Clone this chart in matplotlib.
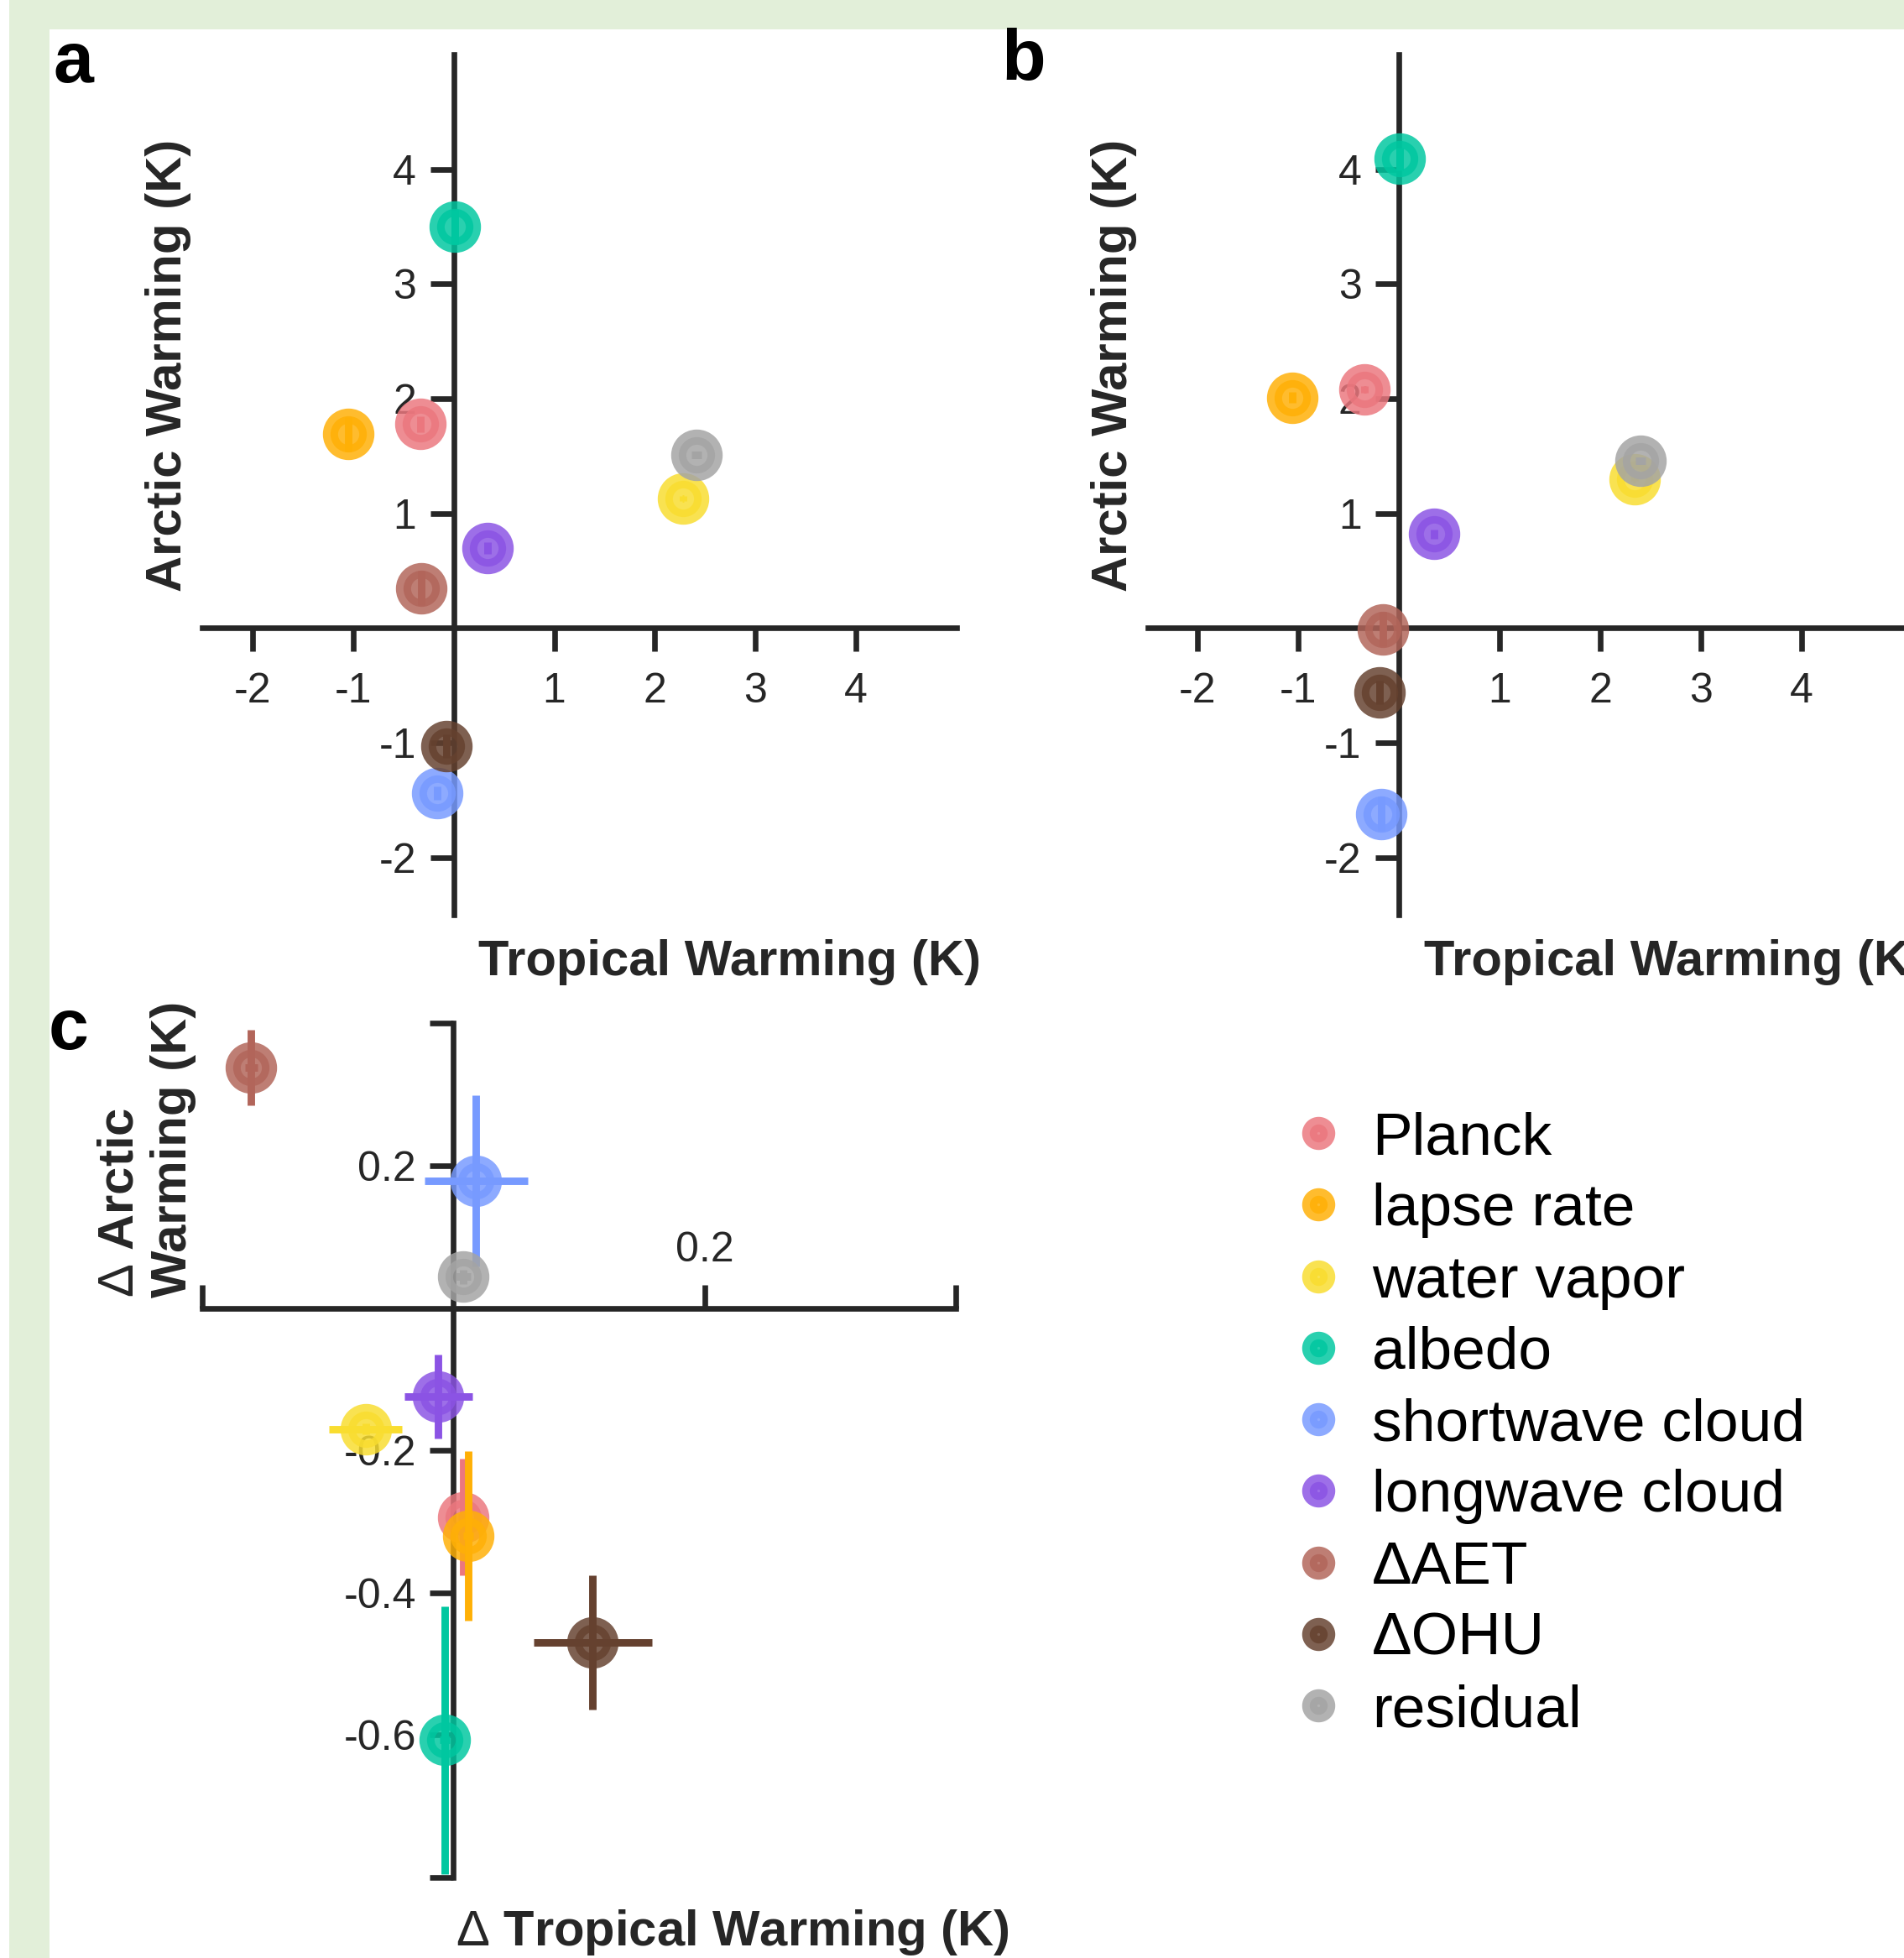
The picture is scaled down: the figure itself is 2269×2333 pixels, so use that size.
import matplotlib
matplotlib.use('Agg')
import matplotlib.pyplot as plt
from matplotlib.lines import Line2D
from matplotlib.patches import Rectangle

plt.rcParams['font.family'] = ['Liberation Sans', 'DejaVu Sans']
plt.rcParams['axes.unicode_minus'] = False
plt.rcParams['mathtext.fontset'] = 'custom'
plt.rcParams['mathtext.rm'] = 'Liberation Sans'

# feedback terms
names = ['Planck', 'lapse rate', 'water vapor', 'albedo', 'shortwave cloud',
         'longwave cloud', '\u0394AET', '\u0394OHU', 'residual']
colors = ['#eb777e', '#ffb006', '#f9dd2f', '#00c7a0', '#779aff',
          '#8b53e4', '#b2655a', '#65412f', '#a4a4a4']

# panel a
a_trop = [-0.33, -1.05, 2.28, 0.01, -0.16, 0.34, -0.32, -0.07, 2.41]
a_arct = [1.78, 1.69, 1.13, 3.50, -1.44, 0.70, 0.35, -1.03, 1.51]
a_trop_err = [0.01, 0.01, 0.01, 0.01, 0.01, 0.01, 0.01, 0.02, 0.05]
a_arct_err = [0.07, 0.15, 0.02, 0.15, 0.06, 0.05, 0.15, 0.10, 0.02]

# panel b
b_trop = [-0.34, -1.06, 2.34, 0.01, -0.18, 0.35, -0.16, -0.19, 2.40]
b_arct = [2.08, 2.01, 1.30, 4.09, -1.62, 0.82, -0.01, -0.56, 1.46]
b_trop_err = [0.01, 0.01, 0.01, 0.01, 0.01, 0.01, 0.01, 0.02, 0.05]
b_arct_err = [0.03, 0.05, 0.02, 0.10, 0.15, 0.04, 0.15, 0.10, 0.02]

# panel c (differences)
c_trop = [0.008, 0.012, -0.070, -0.007, 0.018, -0.012, -0.161, 0.111, 0.008]
c_arct = [-0.294, -0.320, -0.170, -0.607, 0.179, -0.124, 0.338, -0.470, 0.044]
c_trop_err = [0.004, 0.004, 0.029, 0.004, 0.041, 0.027, 0.005, 0.047, 0.006]
c_arct_err = [0.082, 0.119, 0.008, 0.188, 0.120, 0.059, 0.053, 0.094, 0.010]

ab_ticks = [-2, -1, 1, 2, 3, 4]
c_yticks = [0.4, 0.2, -0.2, -0.4, -0.6, -0.8]
c_yticklabels = ['', '0.2', '-0.2', '-0.4', '-0.6', '']
c_xticks = [-0.2, 0.2, 0.4]
c_xticklabels = ['', '0.2', '']

INK = '#262626'
W, H, DPI = 2269, 2333, 200
MS, MEW, ALPHA, ELW = 15.6, 6.5, 0.84, 3.2

fig = plt.figure(figsize=(W / DPI, H / DPI), dpi=DPI, facecolor='#e2efd9')
fig.patches.append(Rectangle((59 / W, 0), 1, 1 - 35 / H, transform=fig.transFigure,
                             facecolor='white', edgecolor='none', zorder=-1))
fig.patches.append(Rectangle((0, 0), 11 / W, 1, transform=fig.transFigure,
                             facecolor='white', edgecolor='none', zorder=-1))


def box(l, t, r, b):
    return [l / W, 1 - b / H, (r - l) / W, (b - t) / H]


def ftext(x, y, s, **kw):
    fig.text(x / W, 1 - y / H, s, **kw)


def draw_points(ax, xs, ys, xe, ye):
    for i in range(len(names)):
        ax.errorbar(xs[i], ys[i], xerr=xe[i], yerr=ye[i], fmt='none',
                    ecolor=colors[i], elinewidth=ELW, capsize=0, zorder=3 + 2 * i)
        ax.plot(xs[i], ys[i], 'o', ms=MS, mew=MEW, color=colors[i],
                alpha=ALPHA, zorder=4 + 2 * i, clip_on=False)


def style_axes(ax):
    ax.patch.set_alpha(0)
    for s in ax.spines.values():
        s.set_linewidth(2.4)
        s.set_color(INK)
    ax.tick_params(length=10, width=2.4, color=INK, labelsize=18,
                   labelcolor=INK, pad=6)


ax_a = fig.add_axes(box(241, 65, 1140, 1090))
ax_b = fig.add_axes(box(1367.5, 65, 2266.5, 1090))
ax_c = fig.add_axes(box(241, 1219.4, 1139, 2236.8))

for ax, xs, ys, xe, ye in [(ax_a, a_trop, a_arct, a_trop_err, a_arct_err),
                           (ax_b, b_trop, b_arct, b_trop_err, b_arct_err)]:
    style_axes(ax)
    ax.set_xlim(-2.5, 5)
    ax.set_ylim(-2.5, 5)
    ax.spines['left'].set_position(('data', 0))
    ax.spines['bottom'].set_position(('data', 0))
    ax.spines['top'].set_visible(False)
    ax.spines['right'].set_visible(False)
    ax.set_xticks(ab_ticks)
    ax.set_yticks(ab_ticks)
    ax.set_xticklabels([str(t) for t in ab_ticks])
    ax.set_yticklabels([str(t) for t in ab_ticks])
    ax.tick_params(axis='x', pad=9)
    draw_points(ax, xs, ys, xe, ye)

style_axes(ax_c)
ax_c.set_xlim(-0.2, 0.4)
ax_c.set_ylim(-0.8, 0.4)
ax_c.spines['left'].set_position(('data', 0))
ax_c.spines['top'].set_position(('data', 0))
ax_c.spines['bottom'].set_visible(False)
ax_c.spines['right'].set_visible(False)
ax_c.xaxis.set_ticks_position('top')
ax_c.set_xticks(c_xticks)
ax_c.set_xticklabels(c_xticklabels)
ax_c.set_yticks(c_yticks)
ax_c.set_yticklabels(c_yticklabels)
ax_c.tick_params(axis='x', pad=6.5)
draw_points(ax_c, c_trop, c_arct, c_trop_err, c_arct_err)

# panel letters
ftext(64, 98, 'a', fontsize=31, fontweight='bold', ha='left', va='baseline')
ftext(1193, 95, 'b', fontsize=31, fontweight='bold', ha='left', va='baseline')
ftext(58, 1250, 'c', fontsize=31, fontweight='bold', ha='left', va='baseline')

# axis labels
lab = dict(fontsize=21.5, fontweight='bold', color=INK)
ftext(201, 435, 'Arctic Warming (K)', rotation=90, ha='center', va='center', **lab)
ftext(1327.5, 435, 'Arctic Warming (K)', rotation=90, ha='center', va='center', **lab)
ftext(870, 1147, 'Tropical Warming (K)', ha='center', va='center', **lab)
ftext(1996.5, 1147, 'Tropical Warming (K)', ha='center', va='center', **lab)
ftext(873, 2303, r'$\mathrm{\Delta}$ Tropical Warming (K)', ha='center', va='center', **lab)
ftext(175, 1546, '$\\mathrm{\\Delta}$ Arctic\nWarming (K)', rotation=90,
      ha='center', va='bottom', multialignment='left', **lab)

handles = [Line2D([], [], marker='o', ls='none', ms=7.7, mew=MEW, color=c, alpha=ALPHA)
           for c in colors]
fig.legend(handles, names, loc='upper left', bbox_to_anchor=(1535 / W, 1 - 1324 / H),
           frameon=False, fontsize=25.7, handlelength=1.0, handletextpad=0.4,
           labelspacing=0.27, borderpad=0, borderaxespad=0)

fig.savefig('out.png', dpi=DPI, facecolor=fig.get_facecolor())
